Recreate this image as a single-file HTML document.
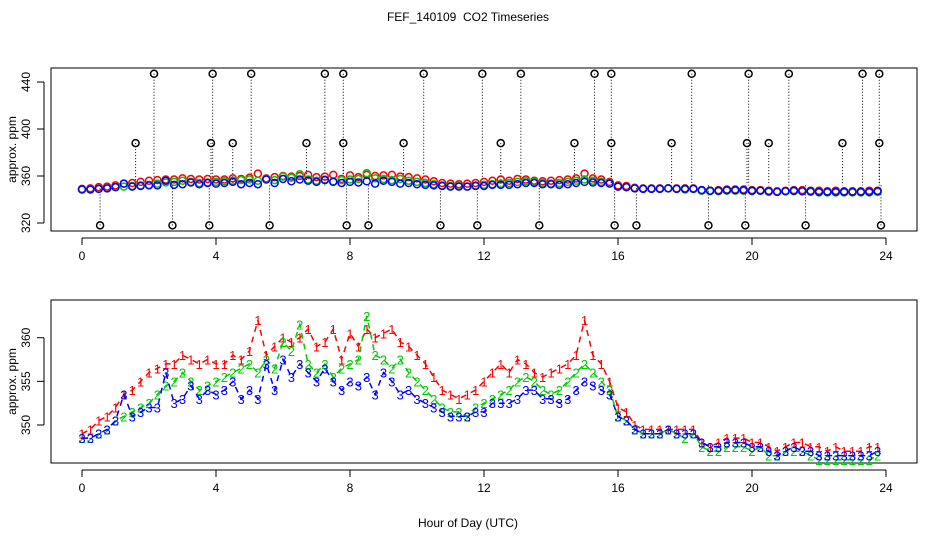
<!DOCTYPE html>
<html><head><meta charset="utf-8"><style>
html,body{margin:0;padding:0;background:#fff}
svg{display:block;font-family:"Liberation Sans",Arial,sans-serif}
</style></head><body>
<svg id="c" width="936" height="540" viewBox="0 0 936 540">
<text x="468" y="21" font-size="12" text-anchor="middle" style="white-space:pre">FEF_140109  CO2 Timeseries</text>
<text x="468" y="527" font-size="12" text-anchor="middle">Hour of Day (UTC)</text>
<g id="topPanel"></g>
<g id="botPanel"></g>
</svg>
<script>
const hours = [];
for (let i = 0; i < 96; i++) hours.push(i * 0.25);
const series3 = [348.5,348.5,349,349.5,350.5,353.5,351,351.5,352,352,356,352.5,353,354.5,353,354,353.5,354,355,353,354,353,357,354,357.5,355.5,357,356,355,356.5,355,354,355,354.5,355.5,353.5,356,355,353.5,354,353,352.5,352,351.5,351,351,351,351.5,351.5,352.5,352.5,352.5,353,354,354,353,353,352.5,353,354,355,354.5,354,353.5,351,350.5,349.5,349,349,349,349.5,349,349,349,348,347.5,347.5,348,348,348,347.5,347.5,347,346.5,347,347.5,347,347,346.5,346.5,346.5,346.5,346.5,346.5,346.5,347];
const series2 = [348.5,348.5,349,349.5,350.5,351,351.5,352,352.5,353.5,354.5,355,356,355,354,354.5,355,355.5,356,356.5,357,356,357.5,356.5,359.5,358.5,361.5,357,356,357,355.5,356.5,357,357.5,362.5,358,357.5,356.5,357.5,356,355,354,353,352,351.5,351.5,351,352,352.5,353,353.5,354,355,355.5,355,354,353.5,354,355,356,357,356,355,354,351,350.5,349.5,349,349,349,349.5,349,348.5,349,347.5,347,347,347.5,347.5,347.5,347,347.5,346.5,346.5,347,347,347,346.5,346,346,346,346,346,346,346,346.5];
const series1 = [349,349.5,350.5,351,352,353.5,354,355,356,356.5,357,357,358,357.5,357,357.5,357,357,358,357.5,358.5,362,358,359,360,359.5,360,361,359,359.5,361,357.5,360.5,359,361,360,360.5,361,359.5,359,358,357,355.5,354,353.5,353,353.5,354,355,356,357,356,357.5,357,356,355.5,356,356.5,357,358,362,358,357,355,352,351.5,350,349.5,349.5,349.5,349.5,349.5,349.5,349.5,348,347.5,348,348.5,348.5,348.5,348,348,347.5,347,347.5,348,348,347.5,347.5,347,347.5,347,347,347,347.5,347.5];
const outlierHours = [2.15,3.9,5.05,7.25,7.8,10.2,11.95,13.1,15.3,15.8,18.2,19.9,21.1,23.3,23.8,1.6,3.85,4.5,6.7,7.8,9.6,12.5,14.7,15.8,17.6,19.85,20.5,22.7,23.8,0.54,2.7,3.8,5.6,7.9,8.55,10.7,11.8,13.65,15.9,16.55,18.7,19.8,21.6,23.85];
const outlierValues = [447,447,447,447,447,447,447,447,447,447,447,447,447,447,447,388,388,388,388,388,388,388,388,388,388,388,388,388,388,318,318,318,318,318,318,318,318,318,318,318,318,318,318,318];
const topTicks = [320,360,400,440];
const botTicks = [350,355,360];
const xTicks = [0,4,8,12,16,20,24];

const NS = "http://www.w3.org/2000/svg";
function mk(parent, tag, attrs, text) {
  const e = document.createElementNS(NS, tag);
  for (const k in attrs) e.setAttribute(k, attrs[k]);
  if (text !== undefined) e.textContent = text;
  parent.appendChild(e);
  return e;
}
const xs = h => 82 + h * 33.5;
const yTop = v => 223 - (v - 320) * 1.175;
const yBot = v => 425 - (v - 350) * 8.73;

function axes(g, y0, y1, yfun, ticks) {
  const box = mk(g, "rect", {x:51, y:y0, width:866, height:y1 - y0, fill:"none", stroke:"#000"});
  
  
  mk(g, "line", {x1:xs(0), x2:xs(24), y1:y1 + 7, y2:y1 + 7, stroke:"#000"});
  xTicks.forEach(t => {
    mk(g, "line", {x1:xs(t), x2:xs(t), y1:y1 + 7, y2:y1 + 14, stroke:"#000"});
    const l = mk(g, "text", {x:xs(t), y:y1 + 29, "font-size":12, "text-anchor":"middle"}, t);
    
    
  });
  mk(g, "line", {x1:44, x2:44, y1:yfun(ticks[0]), y2:yfun(ticks[ticks.length - 1]), stroke:"#000"});
  ticks.forEach(t => {
    const y = yfun(t);
    mk(g, "line", {x1:37, x2:44, y1:y, y2:y, stroke:"#000"});
    const l = mk(g, "text", {x:30, y:y, "font-size":12, "text-anchor":"middle", transform:`rotate(-90 30 ${y})`}, t);
    
    
  });
  const yt = mk(g, "text", {x:16, y:(y0 + y1) / 2, "font-size":12, "text-anchor":"middle", transform:`rotate(-90 16 ${(y0 + y1) / 2})`}, "approx. ppm");
  
  
}

const topG = document.getElementById("topPanel");
axes(topG, 68, 231, yTop, topTicks);
outlierHours.forEach((h, i) => {
  const v = outlierValues[i];
  mk(topG, "line", {x1:xs(h), x2:xs(h), y1:yTop(v), y2:yTop(352), stroke:"#000", "stroke-dasharray":"1,2"});
  const c = mk(topG, "circle", {cx:xs(h), cy:yTop(v), r:3.5, fill:"none", stroke:"#000", "stroke-width":1.5});
  
  
});
[[series1,"#f00"],[series2,"#0c0"],[series3,"#00f"]].forEach(([s, col]) => {
  s.forEach((v, i) => {
    const c = mk(topG, "circle", {cx:xs(hours[i]), cy:yTop(v), r:3.5, fill:"none", stroke:col, "stroke-width":1.5});
    
    
  });
});

const botG = document.getElementById("botPanel");
axes(botG, 300, 463, yBot, botTicks);
[[series1,"#f00","1"],[series2,"#0c0","2"],[series3,"#00f","3"]].forEach(([s, col, lab]) => {
  const d = s.map((v, i) => (i ? "L" : "M") + xs(hours[i]).toFixed(1) + "," + yBot(v).toFixed(1)).join(" ");
  const p = mk(botG, "path", {d:d, fill:"none", stroke:col, "stroke-width":1.5, "stroke-dasharray":"6,5"});
  
  
  s.forEach((v, i) => {
    const t = mk(botG, "text", {x:xs(hours[i]), y:yBot(v) + 5, "font-size":13, "text-anchor":"middle", fill:col}, lab);
    
    
  });
});
</script>
</body></html>
